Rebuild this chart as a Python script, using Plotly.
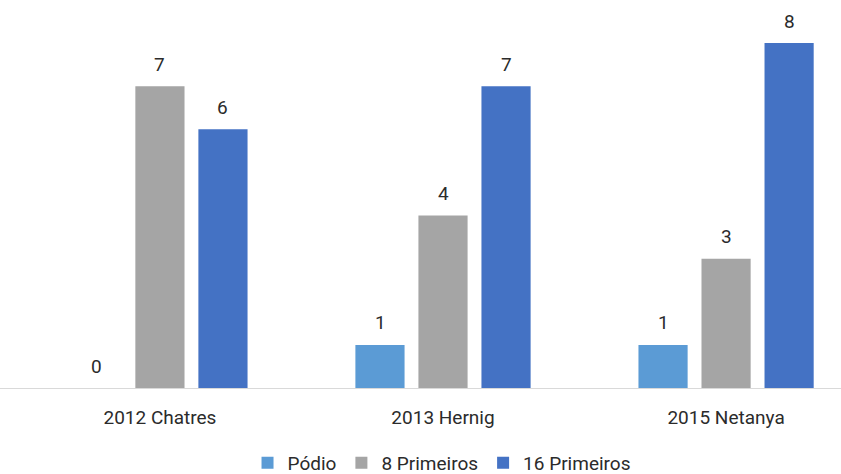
import plotly.graph_objects as go

categories = ["2012 Chatres", "2013 Hernig", "2015 Netanya"]
podio = [0, 1, 1]
oito_primeiros = [7, 4, 3]
dezesseis_primeiros = [6, 7, 8]

series = [
    ("Pódio", podio, "#5B9BD5"),
    ("8 Primeiros", oito_primeiros, "#A5A5A5"),
    ("16 Primeiros", dezesseis_primeiros, "#4472C4"),
]

text_color = "#2B2B2B"
font_family = "Roboto, DejaVu Sans, sans-serif"

fig = go.Figure()
for name, values, color in series:
    fig.add_trace(go.Bar(name=name, x=categories, y=values, marker_color=color,
                         marker_line_width=0))

# value labels above each bar, offset to the bar's slot inside the group
slot = 63
for i, (name, values, color) in enumerate(series):
    for cat, v in zip(categories, values):
        fig.add_annotation(x=cat, y=v, text=str(v), showarrow=False,
                           xshift=(i - 1) * slot, yshift=22, yanchor="middle",
                           font=dict(size=19, color=text_color, family=font_family))

fig.update_layout(
    width=841, height=474,
    margin=dict(l=0, r=0, t=0, b=86, autoexpand=False),
    paper_bgcolor="white", plot_bgcolor="white",
    barmode="group", bargap=0.332, bargroupgap=0.22,
    font=dict(family=font_family, color=text_color, size=19),
    showlegend=True,
    legend=dict(orientation="h", x=0.525, xanchor="center", y=-0.193,
                yanchor="middle", font=dict(size=19, color=text_color),
                itemwidth=30, traceorder="normal"),
)
fig.update_xaxes(range=[-0.565, 2.406], showline=True, linecolor="#D9D9D9",
                 linewidth=1, showgrid=False, ticks="", ticklabelstandoff=12,
                 tickfont=dict(size=19, color=text_color))
fig.update_yaxes(range=[0, 9], visible=False, showgrid=False)

fig.write_html("out.html")
